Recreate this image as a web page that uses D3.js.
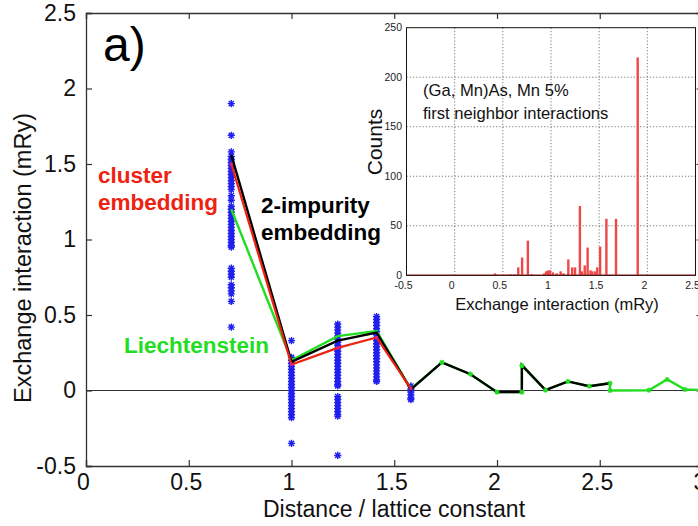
<!DOCTYPE html>
<html>
<head>
<meta charset="utf-8">
<script src="https://cdn.jsdelivr.net/npm/d3@7"></script>
<style>
  body { margin: 0; background: #fff; }
  svg { display: block; font-family: "Liberation Sans", Arial, sans-serif; }
</style>
</head>
<body>
<div id="chart"></div>
<script>
// shell distances (in lattice constants) and scattered J values per pair
const shellDist = [0.707, 1.0, 1.225, 1.414, 1.581]
const shellJ = [
  [1.90, 1.69, 1.58, 1.55, 1.53, 1.51, 1.49, 1.47, 1.45, 1.43, 1.41, 1.39, 1.37, 1.35, 1.33,
   1.29, 1.26, 1.22, 1.20, 1.18, 1.16, 1.14, 1.12, 1.10, 1.08, 1.06, 1.04, 1.02, 1.00, 0.98,
   0.96, 0.95, 0.81, 0.79, 0.77, 0.75, 0.70, 0.68, 0.66, 0.64, 0.59, 0.42],
  [0.33, 0.22, 0.20, 0.18, 0.16, 0.14, 0.12, 0.10, 0.08, 0.06, 0.04, 0.02, 0.00, -0.02,
   -0.04, -0.06, -0.08, -0.10, -0.12, -0.14, -0.16, -0.18, -0.35],
  [0.44, 0.42, 0.40, 0.38, 0.36, 0.34, 0.32, 0.30, 0.28, 0.26, 0.24, 0.22, 0.20, 0.18, 0.16,
   0.14, 0.12, 0.10, 0.08, 0.06, 0.04, 0.03, -0.04, -0.06, -0.08, -0.10, -0.12, -0.14,
   -0.16, -0.17, -0.43],
  [0.49, 0.47, 0.45, 0.43, 0.41, 0.39, 0.37, 0.35, 0.33, 0.31, 0.29, 0.27, 0.25, 0.23, 0.21,
   0.19, 0.17, 0.15, 0.13, 0.11, 0.09, 0.07, 0.06],
  [0.03, 0.01, -0.01, -0.03, -0.05, -0.06]
]

// averaged curves
const distTwoImp = [0.707, 1.0, 1.225, 1.414, 1.581, 1.732, 1.871, 2.0, 2.121, 2.121, 2.236, 2.345, 2.449, 2.55]
const jTwoImp    = [1.56, 0.19, 0.33, 0.384, 0.007, 0.186, 0.108, -0.011, -0.011, 0.168, 0.002, 0.06, 0.028, 0.048]

const distCluster = [0.707, 1.0, 1.225, 1.414, 1.581]
const jCluster    = [1.50, 0.172, 0.282, 0.351, 0.013]

const distLiecht = [0.707, 1.0, 1.225, 1.414, 1.581, 1.732, 1.871, 2.0, 2.121, 2.121, 2.236, 2.345, 2.449, 2.55, 2.55, 2.739, 2.828, 2.915, 3.0]
const jLiecht    = [1.20, 0.20, 0.36, 0.393, 0.01, 0.186, 0.108, -0.011, -0.011, 0.165, 0.002, 0.06, 0.028, 0.048, 0.0, 0.002, 0.073, 0.007, 0.003]

const xTicks = [0, 0.5, 1, 1.5, 2, 2.5, 3]
const xTickLabels = ["0", "0.5", "1", "1.5", "2", "2.5", "3"]
const yTicks = [-0.5, 0, 0.5, 1, 1.5, 2, 2.5]
const yTickLabels = ["-0.5", "0", "0.5", "1", "1.5", "2", "2.5"]

// inset histogram: first neighbour J values and counts
const histJ      = [0.42, 0.58, 0.62, 0.66, 0.70, 0.76, 0.80, 0.93, 0.95, 0.97, 0.99, 1.02, 1.06, 1.10,
                    1.13, 1.18, 1.22, 1.25, 1.30, 1.32, 1.35, 1.38, 1.41, 1.43, 1.46, 1.48, 1.51, 1.575, 1.675, 1.90]
const histCounts = [2, 1, 1, 8, 18, 35, 1, 2, 4, 5, 5, 3, 2, 4,
                    2, 16, 8, 8, 70, 4, 10, 28, 5, 4, 4, 8, 29, 57, 57, 220]

const insetXTicks = [-0.5, 0, 0.5, 1, 1.5, 2, 2.5]
const insetXTickLabels = ["-0.5", "0", "0.5", "1", "1.5", "2", "2.5"]
const insetYTicks = [0, 50, 100, 150, 200, 250]
const insetYTickLabels = ["0", "50", "100", "150", "200", "250"]

const width = 698
const height = 526

const svg = d3.select("#chart").append("svg")
  .attr("width", width)
  .attr("height", height)

const x = d3.scaleLinear().domain([0, 3]).range([86, 702.5])
const y = d3.scaleLinear().domain([-0.5, 2.5]).range([466, 13])

const axisColor = "#333"

// axes: ticks point inward
const bottomAxis = svg.append("g")
  .attr("transform", "translate(0," + y(-0.5) + ")")
  .call(d3.axisBottom(x).tickValues(xTicks).tickSize(-6).tickPadding(8)
    .tickFormat((d, i) => xTickLabels[i]))
const leftAxis = svg.append("g")
  .attr("transform", "translate(" + x(0) + ",0)")
  .call(d3.axisLeft(y).tickValues(yTicks).tickSize(-6).tickPadding(10)
    .tickFormat((d, i) => yTickLabels[i]))
const topAxis = svg.append("g")
  .attr("transform", "translate(0," + y(2.5) + ")")
  .call(d3.axisTop(x).tickValues(xTicks).tickSize(-6).tickFormat(""))
const rightAxis = svg.append("g")
  .attr("transform", "translate(" + x(3) + ",0)")
  .call(d3.axisRight(y).tickValues(yTicks).tickSize(-6).tickFormat(""))

for (const g of [bottomAxis, leftAxis, topAxis, rightAxis]) {
  g.select(".domain").attr("stroke", axisColor).attr("stroke-width", 1.3)
  g.selectAll(".tick line").attr("stroke", axisColor).attr("stroke-width", 1.2)
  g.selectAll(".tick text")
    .attr("font-family", "'Liberation Sans', Arial, sans-serif")
    .attr("font-size", 23)
    .attr("fill", "#111")
}
bottomAxis.selectAll(".tick text").attr("dx", -3)

// zero line
svg.append("line")
  .attr("x1", x(0)).attr("x2", x(3))
  .attr("y1", y(0)).attr("y2", y(0))
  .attr("stroke", "#333").attr("stroke-width", 1)

// scattered pair interactions (matlab style '*')
const r = 3.6
const star = `M${-r},0H${r}M0,${-r}V${r}M${-0.72 * r},${-0.72 * r}L${0.72 * r},${0.72 * r}M${-0.72 * r},${0.72 * r}L${0.72 * r},${-0.72 * r}`
const scatter = []
shellDist.forEach((d, i) => shellJ[i].forEach(j => scatter.push([d, j])))

svg.append("g").selectAll("path")
  .data(scatter)
  .join("path")
  .attr("d", star)
  .attr("transform", d => "translate(" + x(d[0]) + "," + y(d[1]) + ")")
  .attr("stroke", "#2020ee")
  .attr("stroke-width", 1.4)
  .attr("fill", "none")

// curves
const line = d3.line().x(d => x(d[0])).y(d => y(d[1]))
const liechtPts = d3.zip(distLiecht, jLiecht)
const twoImpPts = d3.zip(distTwoImp, jTwoImp)
const clusterPts = d3.zip(distCluster, jCluster)

svg.append("path").datum(liechtPts)
  .attr("d", line).attr("fill", "none").attr("stroke", "#22dd22").attr("stroke-width", 2.4)
svg.append("path").datum(twoImpPts)
  .attr("d", line).attr("fill", "none").attr("stroke", "#000").attr("stroke-width", 2.4)
svg.append("path").datum(clusterPts)
  .attr("d", line).attr("fill", "none").attr("stroke", "#ee2211").attr("stroke-width", 2.2)

const rs = 2.6
const smallStar = `M${-rs},0H${rs}M0,${-rs}V${rs}M${-0.72 * rs},${-0.72 * rs}L${0.72 * rs},${0.72 * rs}M${-0.72 * rs},${0.72 * rs}L${0.72 * rs},${-0.72 * rs}`
svg.append("g").selectAll("path")
  .data(liechtPts.slice(5))
  .join("path")
  .attr("d", smallStar)
  .attr("transform", d => "translate(" + x(d[0]) + "," + y(d[1]) + ")")
  .attr("stroke", "#22dd22").attr("stroke-width", 1.2).attr("fill", "none")

svg.append("g").selectAll("rect")
  .data(clusterPts)
  .join("rect")
  .attr("x", d => x(d[0]) - 1.5).attr("y", d => y(d[1]) - 1.5)
  .attr("width", 3).attr("height", 3)
  .attr("fill", "#e0207a")

// labels
svg.append("text")
  .attr("x", 103).attr("y", 61)
  .attr("font-size", 48)
  .attr("fill", "#000")
  .text("a)")

const lab = svg.append("g").attr("font-weight", "bold").attr("font-size", 22.5)
lab.append("text").attr("x", 98).attr("y", 183).attr("fill", "#ee2211").text("cluster")
lab.append("text").attr("x", 98).attr("y", 210).attr("fill", "#ee2211").text("embedding")
lab.append("text").attr("x", 261).attr("y", 213).attr("fill", "#000").text("2-impurity")
lab.append("text").attr("x", 261).attr("y", 240).attr("fill", "#000").text("embedding")
lab.append("text").attr("x", 124).attr("y", 353).attr("fill", "#22dd22").text("Liechtenstein")

svg.append("text")
  .attr("x", 394).attr("y", 517)
  .attr("text-anchor", "middle")
  .attr("font-size", 23)
  .attr("fill", "#111")
  .text("Distance / lattice constant")

svg.append("text")
  .attr("transform", "translate(31,258) rotate(-90)")
  .attr("text-anchor", "middle")
  .attr("font-size", 23.5)
  .attr("fill", "#111")
  .text("Exchange interaction (mRy)")

// ---- inset histogram ----
const xi = d3.scaleLinear().domain([-0.5, 2.5]).range([406.5, 695.5])
const yi = d3.scaleLinear().domain([0, 250]).range([275.3, 27.7])

const inset = svg.append("g")

inset.append("g").selectAll("line")
  .data(insetXTicks.slice(1, -1))
  .join("line")
  .attr("x1", d => xi(d)).attr("x2", d => xi(d))
  .attr("y1", yi(0)).attr("y2", yi(250))
  .attr("stroke", "#777").attr("stroke-width", 1).attr("stroke-dasharray", "1.2,2")

inset.append("g").selectAll("line")
  .data(insetYTicks.slice(1, -1))
  .join("line")
  .attr("x1", xi(-0.5)).attr("x2", xi(2.5))
  .attr("y1", d => yi(d)).attr("y2", d => yi(d))
  .attr("stroke", "#777").attr("stroke-width", 1).attr("stroke-dasharray", "1.2,2")

inset.append("g").selectAll("rect")
  .data(d3.zip(histJ, histCounts))
  .join("rect")
  .attr("x", d => xi(d[0]) - 1.2)
  .attr("width", 2.4)
  .attr("y", d => yi(d[1]))
  .attr("height", d => yi(0) - yi(d[1]))
  .attr("fill", "#f04848")

inset.append("line")
  .attr("x1", xi(-0.5)).attr("x2", xi(2.5))
  .attr("y1", yi(0)).attr("y2", yi(0))
  .attr("stroke", "#f04848").attr("stroke-width", 1.6)

inset.append("rect")
  .attr("x", xi(-0.5)).attr("y", yi(250))
  .attr("width", xi(2.5) - xi(-0.5)).attr("height", yi(0) - yi(250))
  .attr("fill", "none").attr("stroke", "#111").attr("stroke-width", 1)

inset.append("g").selectAll("text")
  .data(insetXTicks)
  .join("text")
  .attr("x", d => xi(d) - 3)
  .attr("y", 289)
  .attr("text-anchor", "middle")
  .attr("font-size", 10.5)
  .attr("fill", "#222")
  .text((d, i) => insetXTickLabels[i])

inset.append("g").selectAll("text")
  .data(insetYTicks)
  .join("text")
  .attr("x", 402)
  .attr("y", d => yi(d) + 3.5)
  .attr("text-anchor", "end")
  .attr("font-size", 10.5)
  .attr("fill", "#222")
  .text((d, i) => insetYTickLabels[i])

inset.append("text")
  .attr("x", 557).attr("y", 310)
  .attr("text-anchor", "middle")
  .attr("font-size", 16.5)
  .attr("fill", "#111")
  .text("Exchange interaction (mRy)")

inset.append("text")
  .attr("transform", "translate(382,142) rotate(-90)")
  .attr("text-anchor", "middle")
  .attr("font-size", 21)
  .attr("fill", "#111")
  .text("Counts")

inset.append("text")
  .attr("x", 423).attr("y", 95.5)
  .attr("font-size", 16.6)
  .attr("fill", "#111")
  .text("(Ga, Mn)As, Mn 5%")
inset.append("text")
  .attr("x", 423).attr("y", 118.5)
  .attr("font-size", 16.6)
  .attr("fill", "#111")
  .text("first neighbor interactions")
</script>
</body>
</html>
